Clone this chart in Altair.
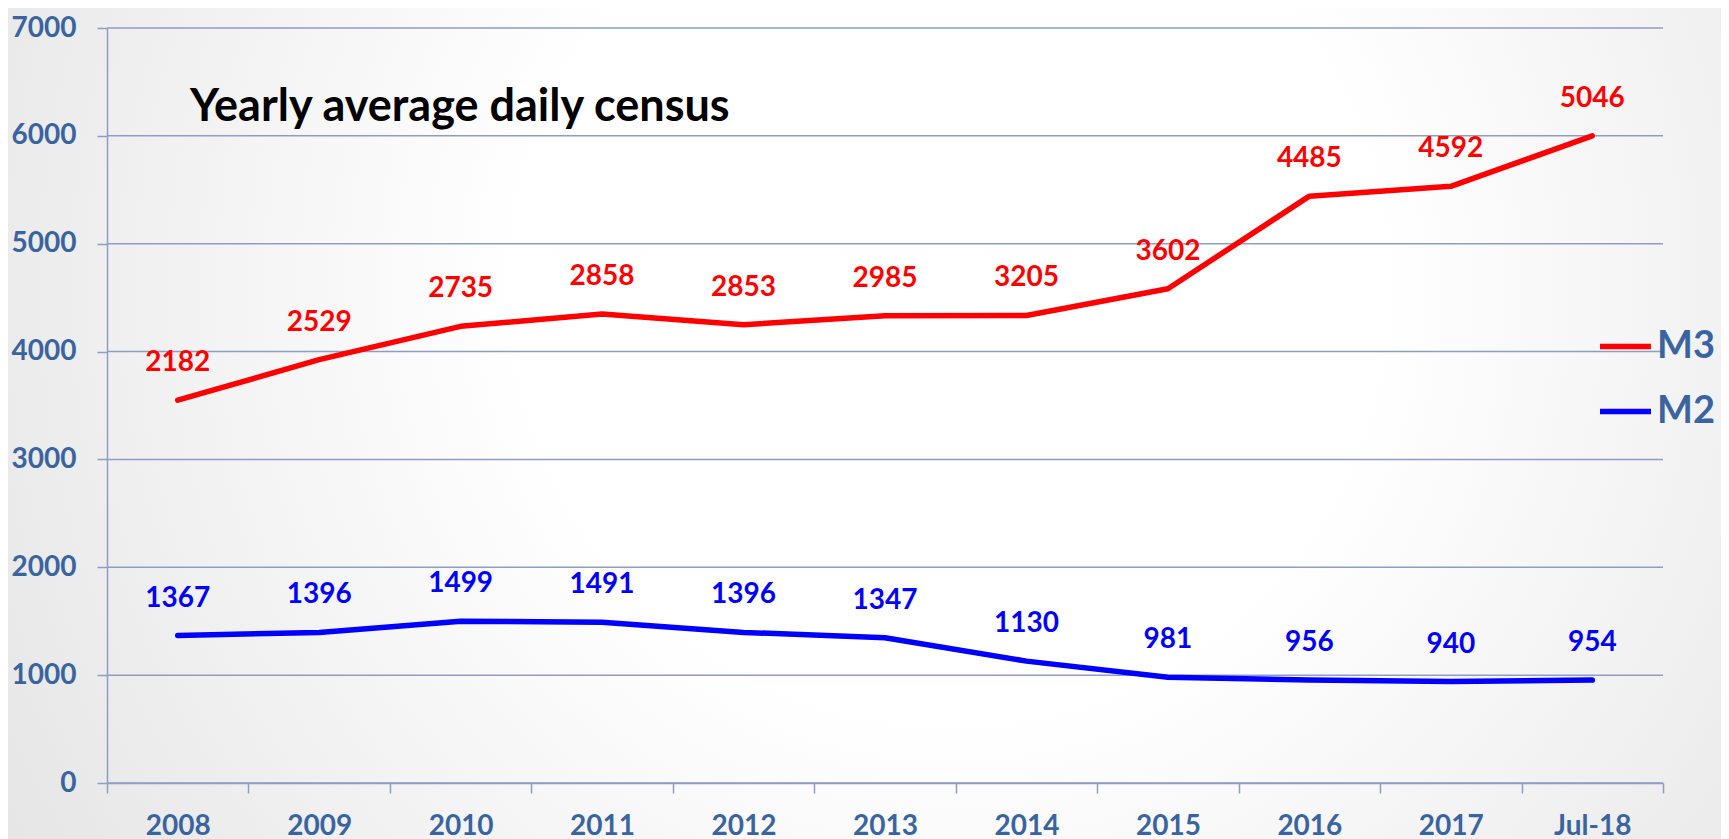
import altair as alt
import pandas as pd

CATEGORIES = ["2008", "2009", "2010", "2011", "2012", "2013", "2014", "2015", "2016", "2017", "Jul-18"]
M3 = [2182, 2529, 2735, 2858, 2853, 2985, 3205, 3602, 4485, 4592, 5046]
M2 = [1367, 1396, 1499, 1491, 1396, 1347, 1130, 981, 956, 940, 954]
SERIES = ["M3", "M2"]
COLORS = ["#FF0000", "#0000FF"]
Y_TICKS = [0, 1000, 2000, 3000, 4000, 5000, 6000, 7000]
TITLE = "Yearly average daily census"

rows = []
for i, c in enumerate(CATEGORIES):
    rows.append({"cat": c, "series": "M2", "value": M2[i], "stack_order": 0})
    rows.append({"cat": c, "series": "M3", "value": M3[i], "stack_order": 1})
df = pd.DataFrame(rows)

W, H = 1556, 755
PAD = {"left": 99, "top": 20, "right": 58, "bottom": 56}
AXC = "#3A64A0"
GRIDC = "#8E9DC2"
FONT = "Lato"

x_enc = alt.X(
    "cat:N", sort=CATEGORIES, bandPosition=0.5,
    scale=alt.Scale(type="band", paddingInner=0, paddingOuter=0),
    axis=alt.Axis(title=None, tickBand="extent", labelAngle=0, domain=True,
                  domainColor=GRIDC, domainWidth=1.5, ticks=True, tickColor=GRIDC,
                  tickWidth=1.5, tickSize=10, labelPadding=19, labelFont=FONT,
                  labelFontSize=28, labelFontWeight="bold", labelColor=AXC,
                  grid=False, zindex=1),
)
Y_AXIS = alt.Axis(title=None, values=Y_TICKS, format="d", grid=False, domain=True,
                  domainColor=GRIDC, domainWidth=1.5, ticks=True, tickColor=GRIDC,
                  tickWidth=1.5, tickSize=10, labelPadding=21, labelFont=FONT,
                  labelFontSize=28, labelFontWeight="bold", labelColor=AXC, zindex=1)
Y_SCALE = alt.Scale(domain=[0, 7000], nice=False, zero=True)

LEGEND = alt.Legend(title=None, orient="none", legendX=1490, legendY=290, direction="vertical",
                    symbolType="stroke", symbolSize=2600, symbolStrokeWidth=5.5,
                    labelFont=FONT, labelFontSize=38, labelFontWeight="bold", labelColor=AXC,
                    labelOffset=3, rowPadding=17, padding=0)
color_enc = alt.Color("series:N", scale=alt.Scale(domain=SERIES, range=COLORS), legend=LEGEND)

gradient = alt.RadialGradient(
    gradient="radial",
    stops=[alt.GradientStop(color="#FFFFFF", offset=0),
           alt.GradientStop(color="#FFFFFF", offset=0.35),
           alt.GradientStop(color="#E0E0E0", offset=1)],
    x1=0.55, y1=0.42, r1=0, x2=0.55, y2=0.42, r2=0.72,
)
bg = alt.Chart(alt.Data(values=[{"k": 1}])).mark_rect(fill=gradient).encode(
    x=alt.value(-PAD["left"]), x2=alt.value(W + PAD["right"]),
    y=alt.value(-PAD["top"]), y2=alt.value(H + PAD["bottom"]),
)

grid = alt.Chart(alt.Data(values=[{"v": v} for v in Y_TICKS])).mark_rule(
    color=GRIDC, strokeWidth=1.5
).encode(
    y=alt.Y("v:Q", scale=Y_SCALE, axis=Y_AXIS),
    x=alt.value(0), x2=alt.value(W),
)

base = alt.Chart(df).transform_stack(
    stack="value", groupby=["cat"], as_=["y0", "y1"],
    sort=[alt.SortField("stack_order", order="ascending")],
)

lines = base.mark_line(strokeWidth=5.5, strokeCap="round", strokeJoin="round").encode(
    x=x_enc,
    y=alt.Y("y1:Q", scale=Y_SCALE, axis=Y_AXIS),
    color=color_enc,
)

labels = base.mark_text(dy=-37, fontSize=28, font=FONT, fontWeight="bold", baseline="middle").encode(
    x=x_enc,
    y=alt.Y("y1:Q", scale=Y_SCALE, axis=Y_AXIS),
    text=alt.Text("value:Q", format="d"),
    color=color_enc,
)

title_text = alt.Chart(alt.Data(values=[{"t": TITLE}])).mark_text(
    font=FONT, fontSize=45, fontWeight="bold", color="#000000", align="left", baseline="alphabetic"
).encode(text="t:N", x=alt.value(83), y=alt.value(93))

chart = alt.layer(bg, grid, lines, labels, title_text).properties(
    width=W, height=H, padding=PAD,
    autosize=alt.AutoSizeParams(type="none"),
).configure_view(stroke=None).configure_legend(
    labelFont=FONT, labelFontWeight="bold", labelFontSize=38, labelColor=AXC
)

chart.save("out.html", embed_options={"renderer": "svg", "actions": False})
